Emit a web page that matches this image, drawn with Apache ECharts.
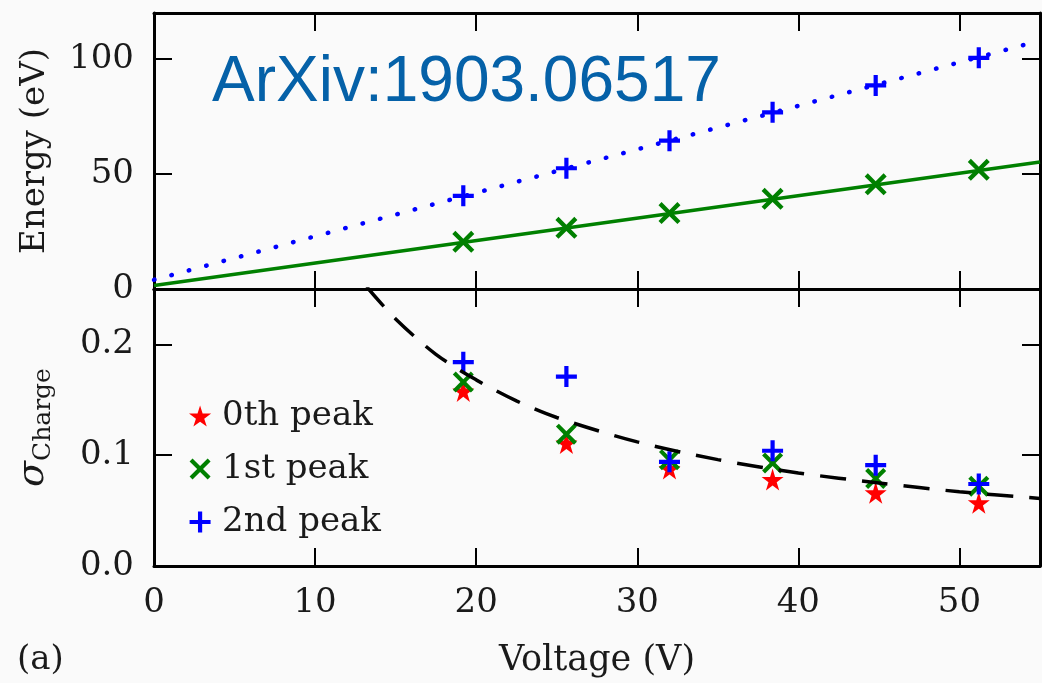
<!DOCTYPE html>
<html>
<head>
<meta charset="utf-8">
<script src="https://cdn.jsdelivr.net/npm/echarts@6/dist/echarts.min.js"></script>
<style>
html,body{margin:0;padding:0;background:#fafafa;}
#chart{width:1042px;height:683px;}
</style>
</head>
<body>
<div id="chart"></div>
<script>
// ---- data ----
const voltages = [19.2, 25.6, 32.0, 38.4, 44.8, 51.2];
const energy1st = [20.5, 26.6, 33.0, 39.2, 45.5, 51.8];
const energy2nd = [40.5, 52.5, 64.5, 76.8, 88.5, 100.5];
const fit1V = [0, 55];
const fit1E = [1.5, 55.2];
const fit2V = [0, 55];
const fit2E = [4.0, 108.0];
const sigma0th = [0.158, 0.111, 0.088, 0.078, 0.066, 0.057];
const sigma1st = [0.166, 0.119, 0.096, 0.093, 0.079, 0.072];
const sigma2nd = [0.184, 0.171, 0.094, 0.104, 0.091, 0.074];
const fitSigmaV = [13.2, 15, 17.5, 20, 22.5, 25, 30, 35, 40, 45, 50, 55];
const fitSigma = [0.252, 0.223, 0.191, 0.168, 0.149, 0.134, 0.112, 0.096, 0.084, 0.075, 0.067, 0.061];
const seriesNames = ['0th peak', '1st peak', '2nd peak'];
const titleText = 'ArXiv:1903.06517';

// ---- styling ----
const SERIF = '"DejaVu Serif", "Liberation Serif", serif';
const FS = 34;
const TXT = '#1a1a1a';
const STAR = 'path://M50,0 L61,35 L98,35 L68,57 L79,91 L50,70 L21,91 L32,57 L2,35 L39,35 Z';
const PLUS = 'path://M40,0H60V40H100V60H60V100H40V60H0V40H40Z';
const CROSS = 'path://M14,0 L50,36 L86,0 L100,14 L64,50 L100,86 L86,100 L50,64 L14,100 L0,86 L36,50 L0,14 Z';
const RED = '#ff0000', GREEN = '#008000', BLUE = '#0000ff';

const zip = (xs, ys) => xs.map((x, i) => [x, ys[i]]);

function axisBase(showLabel) {
  return {
    axisLine: {show: true, onZero: false, lineStyle: {color: '#000', width: 3}},
    axisTick: {show: true, inside: true, length: 18, lineStyle: {color: '#000', width: 2}},
    splitLine: {show: false},
    axisLabel: {show: showLabel, fontFamily: SERIF, fontSize: FS, color: TXT, margin: 20, showMaxLabel: false}
  };
}
function xAx(grid, position, showLabel, name) {
  const a = Object.assign({type: 'value', gridIndex: grid, position: position, min: 0, max: 55, interval: 10}, axisBase(showLabel));
  if (name) {
    a.name = name; a.nameLocation = 'middle'; a.nameGap = 77;
    a.nameTextStyle = {fontFamily: SERIF, fontSize: FS + 1, color: TXT};
  }
  return a;
}
function yAx(grid, position, showLabel, min, max, interval, name, fmt) {
  const a = Object.assign({type: 'value', gridIndex: grid, position: position, min: min, max: max, interval: interval}, axisBase(showLabel));
  if (fmt) a.axisLabel.formatter = fmt;
  if (name) {
    a.name = name; a.nameLocation = 'middle'; a.nameRotate = 90; a.nameGap = 100;
  }
  return a;
}

const yTopL = yAx(0, 'left', true, 0, 120, 50, 'Energy (eV)');
yTopL.nameGap = 102;
yTopL.nameTextStyle = {fontFamily: SERIF, fontSize: FS, color: TXT};
const yBotL = yAx(1, 'left', true, 0, 0.25, 0.1, '{s|σ}{c|Charge}', v => v.toFixed(1));
yBotL.nameGap = 98;
yBotL.nameTextStyle = {
  color: TXT,
  rich: {
    s: {fontFamily: SERIF, fontStyle: 'italic', fontSize: 38, lineHeight: 46, color: TXT},
    c: {fontFamily: SERIF, fontSize: 25, lineHeight: 25, verticalAlign: 'bottom', color: TXT}
  }
};

const option = {
  backgroundColor: '#fafafa',
  animation: false,
  grid: [
    {left: 154, top: 13, width: 886, height: 276},
    {left: 154, top: 289, width: 886, height: 277}
  ],
  xAxis: [
    xAx(0, 'bottom', false),
    xAx(0, 'top', false),
    xAx(1, 'bottom', true, 'Voltage (V)'),
    xAx(1, 'top', false)
  ],
  yAxis: [
    yTopL,
    yAx(0, 'right', false, 0, 120, 50),
    yBotL,
    yAx(1, 'right', false, 0, 0.25, 0.1)
  ],
  legend: {
    orient: 'vertical', left: 184, top: 394,
    itemWidth: 24, itemHeight: 21, itemGap: 19,
    textStyle: {fontFamily: SERIF, fontSize: FS, color: TXT, padding: [0, 0, 0, 5]},
    data: [
      {name: seriesNames[0], icon: STAR, itemStyle: {color: RED}},
      {name: seriesNames[1], icon: CROSS, itemStyle: {color: GREEN}},
      {name: seriesNames[2], icon: PLUS, itemStyle: {color: BLUE}}
    ]
  },
  graphic: [
    {type: 'text', left: 212, top: 51, z: 100,
     style: {text: titleText, fontFamily: '"Liberation Sans", Arial, sans-serif', fontSize: 64, fill: '#0561a8'}},
    {type: 'text', left: 17, top: 643, z: 100,
     style: {text: '(a)', fontFamily: SERIF, fontSize: FS, fill: TXT}}
  ],
  series: [
    {type: 'line', xAxisIndex: 0, yAxisIndex: 0, data: zip(fit1V, fit1E), symbol: 'none',
     lineStyle: {color: GREEN, width: 3.5}, silent: true},
    {type: 'line', xAxisIndex: 0, yAxisIndex: 0, data: zip(fit2V, fit2E), symbol: 'none',
     lineStyle: {color: BLUE, width: 4.5, type: [0.5, 17.5], cap: 'round'}, silent: true},
    {type: 'scatter', xAxisIndex: 0, yAxisIndex: 0, data: zip(voltages, energy1st), symbol: CROSS, symbolSize: 22,
     itemStyle: {color: GREEN, opacity: 1}},
    {type: 'scatter', xAxisIndex: 0, yAxisIndex: 0, data: zip(voltages, energy2nd), symbol: PLUS, symbolSize: 21,
     itemStyle: {color: BLUE, opacity: 1}},
    {name: seriesNames[0], type: 'scatter', xAxisIndex: 2, yAxisIndex: 2, data: zip(voltages, sigma0th), symbol: STAR, symbolSize: 22,
     itemStyle: {color: RED, opacity: 1}},
    {name: seriesNames[1], type: 'scatter', xAxisIndex: 2, yAxisIndex: 2, data: zip(voltages, sigma1st), symbol: CROSS, symbolSize: 21,
     itemStyle: {color: GREEN, opacity: 1}},
    {name: seriesNames[2], type: 'scatter', xAxisIndex: 2, yAxisIndex: 2, data: zip(voltages, sigma2nd), symbol: PLUS, symbolSize: 21,
     itemStyle: {color: BLUE, opacity: 1}},
    {type: 'line', xAxisIndex: 2, yAxisIndex: 2, data: zip(fitSigmaV, fitSigma), symbol: 'none', smooth: 0.3,
     lineStyle: {color: '#000', width: 3.5, type: [26, 16]}, silent: true, z: 3}
  ]
};
const chart = echarts.init(document.getElementById('chart'), null, {renderer: 'canvas'});
chart.setOption(option);
</script>
</body>
</html>
